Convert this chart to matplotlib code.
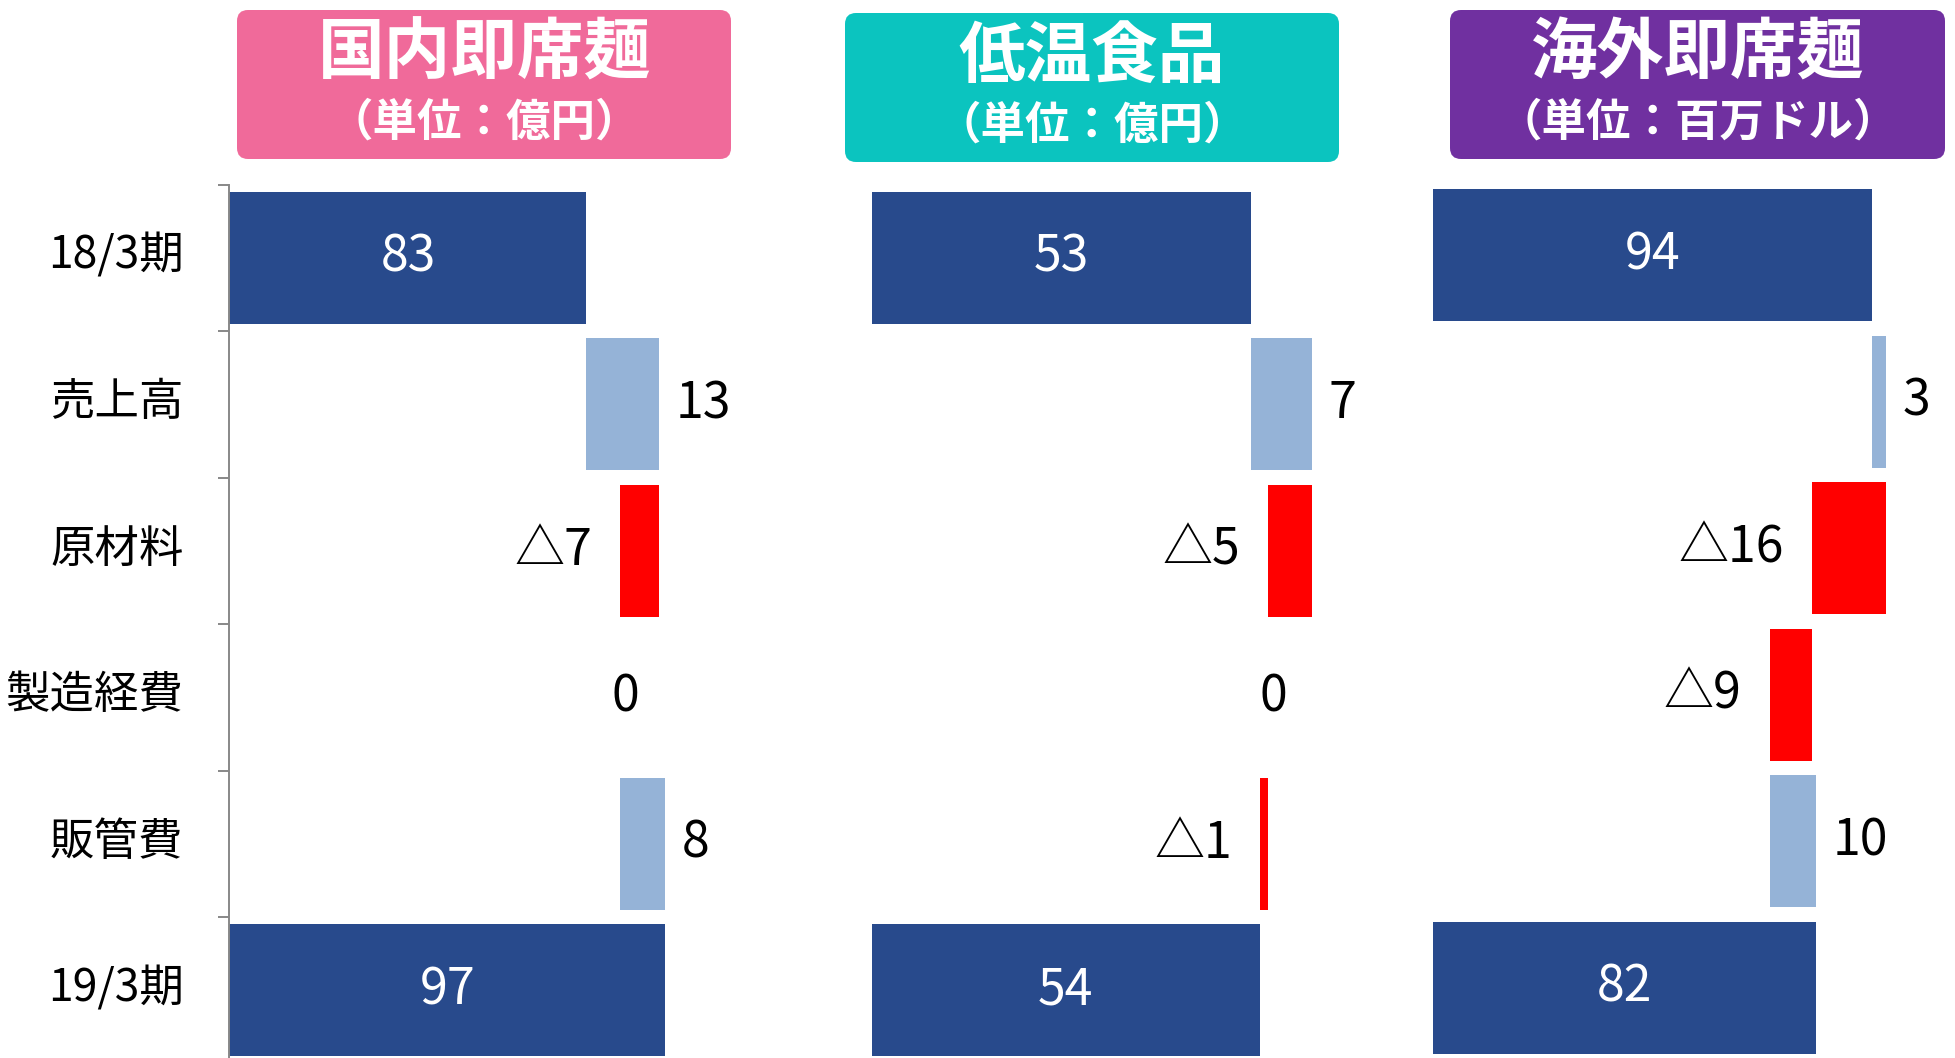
import matplotlib
matplotlib.use("Agg")
import matplotlib.pyplot as plt
from matplotlib.patches import FancyBboxPatch
from matplotlib.transforms import ScaledTranslation
import numpy as np

plt.rcParams['font.family'] = ['Noto Sans CJK JP', 'DejaVu Sans']

# 営業利益増減要因（18/3期 → 19/3期）
categories = ['18/3期', '売上高', '原材料', '製造経費', '販管費', '19/3期']
titles = ['国内即席麺', '低温食品', '海外即席麺']
units = ['（単位：億円）', '（単位：億円）', '（単位：百万ドル）']
start_values = [83, 53, 94]
end_values = [97, 54, 82]
domestic_changes = [13, -7, 0, 8]
chilled_changes = [7, -5, 0, -1]
overseas_changes = [3, -16, -9, 10]

NAVY = '#284A8C'
UP = '#95B3D7'
DOWN = '#FF0000'
BOX_COLORS = ['#F06A9A', '#0BC4BF', '#7030A0']
VAL_SIZE = 36

W, H = 1956, 1058
fig = plt.figure(figsize=(W / 100, H / 100), dpi=100)

# 見出しボックス（ピクセル座標のオーバーレイ）
over = fig.add_axes([0, 0, 1, 1])
over.set_xlim(0, W)
over.set_ylim(H, 0)
over.axis('off')
boxes = [(237, 10, 731, 159), (845, 13, 1339, 162), (1450, 10, 1945, 159)]
for (x0, y0, x1, y1), c, t, u in zip(boxes, BOX_COLORS, titles, units):
    over.add_patch(FancyBboxPatch((x0, y0), x1 - x0, y1 - y0,
                                  boxstyle='round,pad=0,rounding_size=11',
                                  fc=c, ec='none'))
    cx = (x0 + x1) / 2
    over.text(cx, y0 + 44, t, color='white', fontsize=48, fontweight='bold',
              ha='center', va='center')
    over.text(cx, y0 + 113, u, color='white', fontsize=32, fontweight='bold',
              ha='center', va='center')

# パネル配置と横軸の範囲（国内即席麺・低温食品は途中から表示）
rects = [[0.1173, -0.0052, 0.2781, 0.8307],
         [0.4458, -0.0052, 0.2749, 0.8307],
         [0.7328, -0.0028, 0.2672, 0.8307]]
xlims = [(19.4, 116.3), (9.6, 71.2), (0, 111.9)]
changes_all = [domestic_changes, chilled_changes, overseas_changes]

y = np.arange(len(categories))
for i in range(3):
    ax = fig.add_axes(rects[i])
    ax.set_xlim(*xlims[i])
    ax.set_ylim(len(categories) - 0.5, -0.5)
    lo = xlims[i][0]

    # 期首・期末
    for yy, v in [(0, start_values[i]), (5, end_values[i])]:
        ax.barh(yy, v, height=0.9, color=NAVY)
        ax.text((lo + v) / 2, yy, str(v), color='white', fontsize=VAL_SIZE,
                ha='center', va='center')

    # 増減要因
    cum = start_values[i]
    for k, d in enumerate(changes_all[i]):
        yy = k + 1
        if d > 0:
            ax.barh(yy, d, left=cum, height=0.9, color=UP)
            ax.annotate(str(d), (cum + d, yy), xytext=(12, 0),
                        textcoords='offset points', fontsize=VAL_SIZE,
                        ha='left', va='center')
        elif d < 0:
            ax.barh(yy, -d, left=cum + d, height=0.9, color=DOWN)
            ax.annotate('△' + str(-d), (cum + d, yy), xytext=(-20, 0),
                        textcoords='offset points', fontsize=VAL_SIZE,
                        ha='right', va='center')
        else:
            ax.annotate('0', (cum, yy), xytext=(4, 0),
                        textcoords='offset points', fontsize=VAL_SIZE,
                        ha='center', va='center')
        cum += d

    ax.set_xticks([])
    for s in ['top', 'right', 'bottom']:
        ax.spines[s].set_visible(False)
    if i == 0:
        ax.spines['left'].set_color('#888888')
        ax.spines['left'].set_linewidth(1.4)
        ax.set_yticks(y)
        ax.set_yticklabels(categories, fontsize=32)
        ax.tick_params(axis='y', which='major', length=0, pad=33)
        shift = ScaledTranslation(0, 5 / 72, fig.dpi_scale_trans)
        for lab in ax.get_yticklabels():
            lab.set_transform(lab.get_transform() + shift)
        ax.set_yticks(np.arange(-0.5, len(categories)), minor=True)
        ax.tick_params(axis='y', which='minor', length=8, width=1.4,
                       color='#888888')
    else:
        ax.spines['left'].set_visible(False)
        ax.set_yticks([])
    ax.patch.set_alpha(0)

fig.savefig('out.png', dpi=100)
